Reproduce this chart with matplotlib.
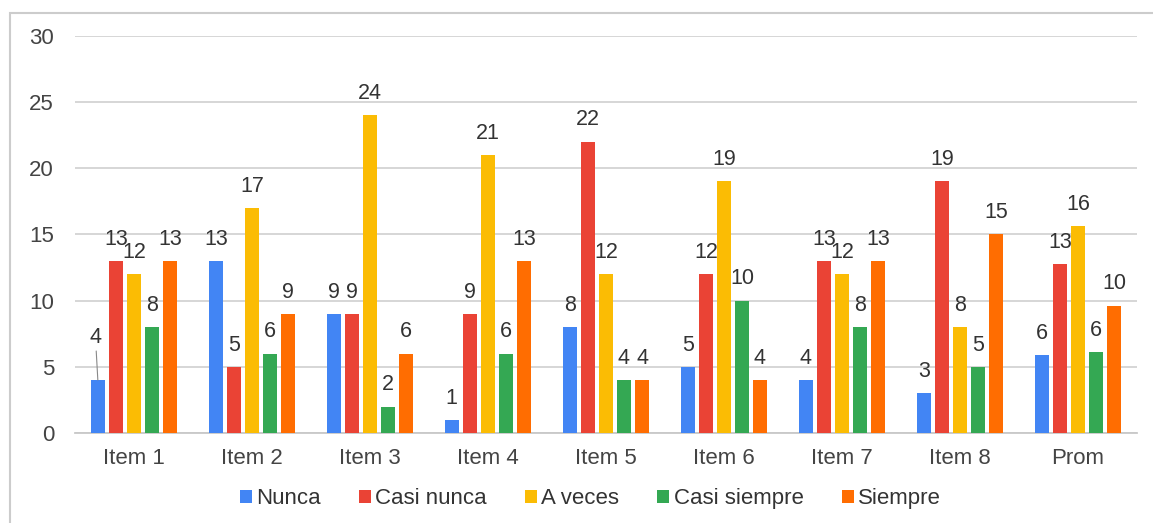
import numpy as np
import matplotlib.pyplot as plt
from matplotlib.patches import Rectangle

plt.rcParams['font.family'] = ['Liberation Sans', 'DejaVu Sans']

items = ['Item 1', 'Item 2', 'Item 3', 'Item 4', 'Item 5', 'Item 6', 'Item 7', 'Item 8', 'Prom']
series = ['Nunca', 'Casi nunca', 'A veces', 'Casi siempre', 'Siempre']
colors = ['#4285F4', '#EA4335', '#FBBC04', '#34A853', '#FF6D01']

nunca = [4, 13, 9, 1, 8, 5, 4, 3, 5.875]
casi_nunca = [13, 5, 9, 9, 22, 12, 13, 19, 12.75]
a_veces = [12, 17, 24, 21, 12, 19, 12, 8, 15.625]
casi_siempre = [8, 6, 2, 6, 4, 10, 8, 5, 6.125]
siempre = [13, 9, 6, 13, 4, 4, 13, 15, 9.625]
values = [nunca, casi_nunca, a_veces, casi_siempre, siempre]

fs = 16

fig = plt.figure(figsize=(11.53, 5.23), dpi=100)
ax = fig.add_axes([0.065, 0.172, 0.921, 0.76])

# marco gris alrededor del grafico
fig.patches.append(Rectangle((10 / 1153, -0.1), 1.2, 1 - 13 / 523 + 0.1, transform=fig.transFigure,
                             fill=False, edgecolor='#cccccc', linewidth=1.5, zorder=0))

x = np.arange(len(items))
pitch = 0.153
width = 0.122
for i, (name, vals, c) in enumerate(zip(series, values, colors)):
    pos = x + (i - 2) * pitch
    ax.bar(pos, vals, width=width, color=c, label=name, zorder=3)
    for j, (px, v) in enumerate(zip(pos, vals)):
        txt = str(int(round(v)))
        if i == 0 and j == 0:
            # etiqueta desplazada con linea guia
            ax.annotate(txt, xy=(px, v), xytext=(px - 0.02, v + 2.4), ha='center', va='bottom',
                        fontsize=15.5, color='#333333',
                        arrowprops=dict(arrowstyle='-', color='#888888', lw=0.8, shrinkA=0, shrinkB=0))
        else:
            ax.annotate(txt, xy=(px, v), xytext=(0, 8), textcoords='offset points',
                        ha='center', va='bottom', fontsize=15.5, color='#333333')

ax.set_xlim(-0.5, len(items) - 0.5)
ax.set_ylim(0, 30)
ax.set_yticks(range(0, 31, 5))
ax.set_xticks(x)
ax.set_xticklabels(items)
ax.grid(axis='y', color='#d3d3d3', linewidth=1.3, zorder=0)
ax.set_axisbelow(True)
for s in ['top', 'right', 'left']:
    ax.spines[s].set_visible(False)
ax.spines['bottom'].set_color('#c8c8c8')
ax.spines['bottom'].set_linewidth(1.3)
ax.tick_params(axis='both', length=0, labelsize=fs, labelcolor='#444444')
ax.tick_params(axis='x', pad=11)
ax.tick_params(axis='y', pad=15)

fig.legend(loc='center', bbox_to_anchor=(0.512, 0.046), ncol=5, frameon=False,
           fontsize=fs, handlelength=0.55, handleheight=0.55, handletextpad=0.2,
           columnspacing=1.7, labelcolor='#333333')

fig.savefig('out.png', dpi=100)
